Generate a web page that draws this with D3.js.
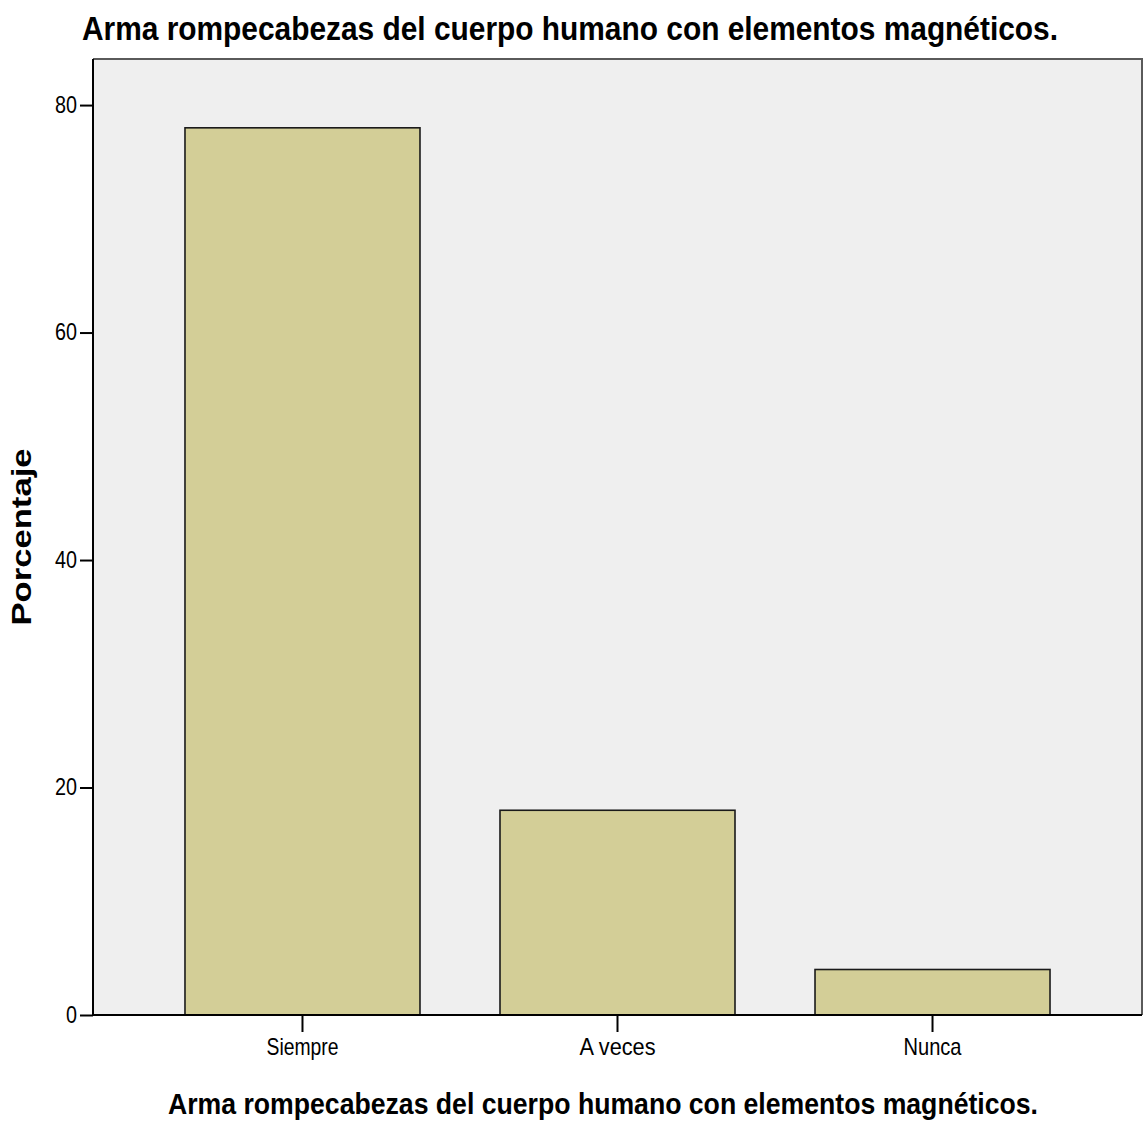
<!DOCTYPE html>
<html>
<head>
<meta charset="utf-8">
<script src="https://cdn.jsdelivr.net/npm/d3@7"></script>
<style>
  html, body { margin: 0; padding: 0; background: #ffffff; }
  svg { display: block; }
  text { font-family: "Liberation Sans Narrow", "Liberation Sans", Arial, sans-serif; fill: #000; }
</style>
</head>
<body>
<svg id="chart" width="1147" height="1123"></svg>
<script>
const categories = ["Siempre", "A veces", "Nunca"];
const values = [78, 18, 4];
const yTicks = [0, 20, 40, 60, 80];
const chartTitle = "Arma rompecabezas del cuerpo humano con elementos magnéticos.";
const xTitle = "Arma rompecabezas del cuerpo humano con elementos magnéticos.";
const yTitle = "Porcentaje";

const svg = d3.select("#chart");
const plot = { left: 93, right: 1142, top: 59, bottom: 1015 };

const x = d3.scaleBand()
  .domain(categories)
  .range([plot.left, plot.right])
  .paddingInner(0.254)
  .paddingOuter(0.292);

const y = d3.scaleLinear()
  .domain([0, 84.05])
  .range([plot.bottom, plot.top]);

// plot background
svg.append("rect")
  .attr("x", plot.left).attr("y", plot.top)
  .attr("width", plot.right - plot.left).attr("height", plot.bottom - plot.top)
  .attr("fill", "#efefef");

// top and right frame
svg.append("path")
  .attr("d", `M${plot.left},${plot.top}H${plot.right}V${plot.bottom}`)
  .attr("fill", "none").attr("stroke", "#5a5a5a").attr("stroke-width", 2);

// bars
svg.append("g").selectAll("rect")
  .data(categories.map((c, i) => ({ c, v: values[i] })))
  .join("rect")
  .attr("x", d => x(d.c))
  .attr("y", d => y(d.v))
  .attr("width", x.bandwidth())
  .attr("height", d => y(0) - y(d.v))
  .attr("fill", "#d3ce97")
  .attr("stroke", "#1a1a1a")
  .attr("stroke-width", 1.6);

// y axis
const yAxis = d3.axisLeft(y).tickValues(yTicks).tickSize(13).tickPadding(3).tickFormat(d3.format("d"));
const gy = svg.append("g").attr("transform", `translate(${plot.left},0)`).call(yAxis);
gy.select(".domain").attr("stroke", "#000").attr("stroke-width", 2).attr("d", `M0,${plot.top}V${plot.bottom}`);
gy.selectAll(".tick line").attr("stroke", "#000").attr("stroke-width", 2);
gy.selectAll(".tick text")
  .style("font-size", "23px")
  .attr("textLength", d => String(d).length * 11).attr("lengthAdjust", "spacingAndGlyphs")
  .attr("fill", "#222");

// x axis
const xAxis = d3.axisBottom(x).tickSize(17).tickPadding(6);
const gx = svg.append("g").attr("transform", `translate(0,${plot.bottom})`).call(xAxis);
gx.select(".domain").attr("stroke", "#000").attr("stroke-width", 2).attr("d", `M${plot.left},0H${plot.right}`);
gx.selectAll(".tick line").attr("stroke", "#000").attr("stroke-width", 2);
const labelWidths = { "Siempre": 72, "A veces": 76, "Nunca": 58 };
gx.selectAll(".tick text")
  .style("font-size", "24px")
  .attr("fill", "#222")
  .attr("textLength", d => labelWidths[d]).attr("lengthAdjust", "spacingAndGlyphs");

// chart title
svg.append("text")
  .attr("x", 570).attr("y", 40)
  .attr("text-anchor", "middle")
  .style("font-size", "34px").style("font-weight", "bold")
  .attr("textLength", 976).attr("lengthAdjust", "spacingAndGlyphs")
  .text(chartTitle);

// x title
svg.append("text")
  .attr("x", 603).attr("y", 1114)
  .attr("text-anchor", "middle")
  .style("font-size", "30px").style("font-weight", "bold")
  .attr("textLength", 870).attr("lengthAdjust", "spacingAndGlyphs")
  .text(xTitle);

// y title
svg.append("text")
  .attr("transform", `translate(31,537) rotate(-90)`)
  .attr("text-anchor", "middle")
  .style("font-family", "'Liberation Sans', Arial, sans-serif")
  .style("font-size", "27px").style("font-weight", "bold")
  .attr("textLength", 177).attr("lengthAdjust", "spacingAndGlyphs")
  .text(yTitle);
</script>
</body>
</html>
